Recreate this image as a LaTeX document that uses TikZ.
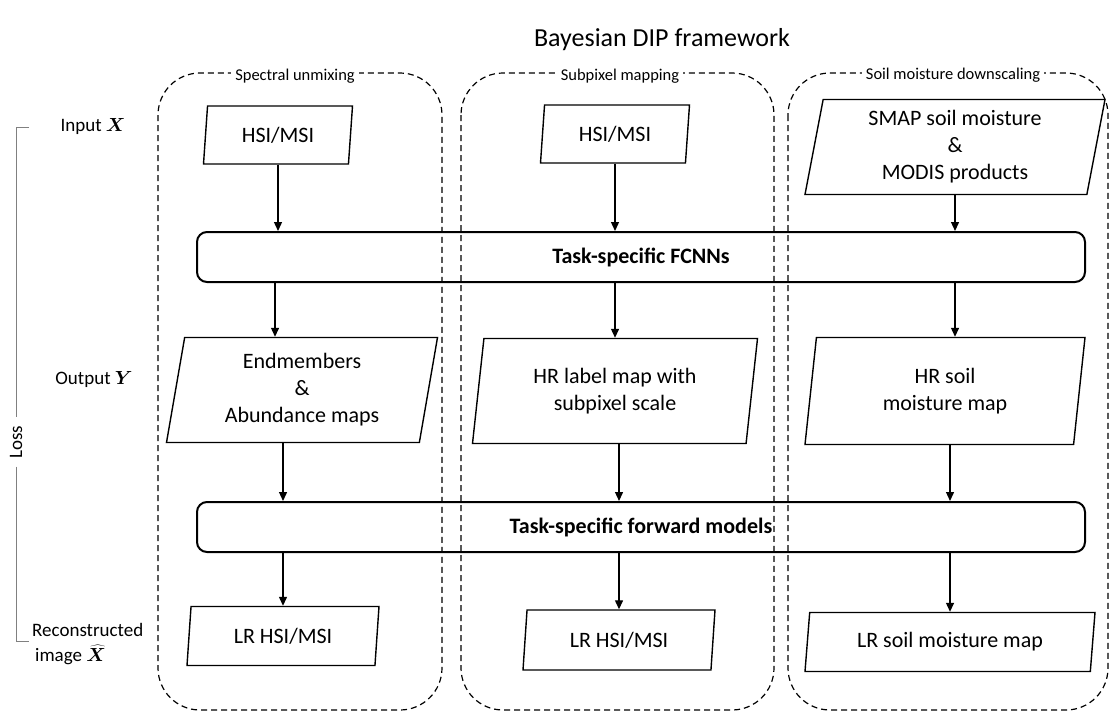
\documentclass[tikz,border=0pt]{standalone}
\usepackage{fix-cm}
\usepackage{bm}
\usepackage{fontspec}
\setmainfont{Carlito}
\usetikzlibrary{shapes.geometric, arrows.meta}
\definecolor{BrkGray}{RGB}{128,128,128}

\begin{document}
\begin{tikzpicture}[x=1pt, y=-1pt,
          lane/.style={draw, dash pattern=on 6pt off 4pt, line width=1.2pt,
                       rounded corners=42pt},
          lanelabel/.style={fill=white, inner sep=4pt,
                            font=\fontsize{16.5}{19}\selectfont},
          io/.style={trapezium, trapezium left angle=76, trapezium right angle=104,
                     trapezium stretches body, draw, line width=1.4pt, align=center,
                     inner sep=0pt, font=\fontsize{22}{27}\selectfont},
          bar/.style={draw, rounded corners=10pt, line width=2pt, minimum width=888pt,
                      minimum height=50pt, font=\fontsize{22}{26}\selectfont\bfseries},
          arr/.style={-{Triangle[length=9pt, width=8pt]}, line width=1.3pt},
          side/.style={font=\fontsize{19}{23}\selectfont},
          brk/.style={draw=BrkGray, line width=1pt}
        ]
        \useasboundingbox (0,0) rectangle (1111,712);

        \node[font=\fontsize{26}{30}\selectfont] (title) at (662,40) {Bayesian DIP framework};

        % task lanes
        \draw[lane] (158,73) rectangle (442,710);
        \draw[lane] (461,73) rectangle (774,710);
        \draw[lane] (788,73) rectangle (1108,710);
        \node[lanelabel] (lab1) at (295,76) {Spectral unmixing};
        \node[lanelabel] (lab2) at (620,76) {Subpixel mapping};
        \node[lanelabel] (lab3) at (953,75) {Soil moisture downscaling};

        % inputs
        \node[io, minimum width=149pt, minimum height=58pt] (in1) at (278,135) {HSI/MSI};
        \node[io, minimum width=149pt, minimum height=58pt] (in2) at (615,134) {HSI/MSI};
        \node[io, minimum width=300pt, minimum height=95pt] (in3) at (955,147)
              {SMAP soil moisture\\\&\\MODIS products};

        \node[bar] (fcnn) at (641,257) {Task-specific FCNNs};

        % outputs
        \node[io, minimum width=271pt, minimum height=105pt] (out1) at (302,390)
              {Endmembers\\\&\\Abundance maps};
        \node[io, minimum width=285pt, minimum height=105pt] (out2) at (615,391)
              {HR label map with\\subpixel scale};
        \node[io, minimum width=280pt, minimum height=107pt] (out3) at (945,391)
              {HR soil\\moisture map};

        \node[bar] (fwd) at (641,527) {Task-specific forward models};

        % reconstructions
        \node[io, minimum width=192pt, minimum height=59pt] (rec1) at (283,636) {LR HSI/MSI};
        \node[io, minimum width=192pt, minimum height=60pt] (rec2) at (619,640) {LR HSI/MSI};
        \node[io, minimum width=290pt, minimum height=59pt] (rec3) at (950,642) {LR soil moisture map};

        \draw[arr] (in1.south) -- (in1.south |- fcnn.north);
        \draw[arr] (in2.south) -- (in2.south |- fcnn.north);
        \draw[arr] (in3.south) -- (in3.south |- fcnn.north);
        \draw[arr] ([xshift=-27pt]out1.north |- fcnn.south) -- ([xshift=-27pt]out1.north);
        \draw[arr] (out2.north |- fcnn.south) -- (out2.north);
        \draw[arr] ([xshift=10pt]out3.north |- fcnn.south) -- ([xshift=10pt]out3.north);
        \draw[arr] ([xshift=-19pt]out1.south) -- ([xshift=-19pt]out1.south |- fwd.north);
        \draw[arr] ([xshift=4pt]out2.south) -- ([xshift=4pt]out2.south |- fwd.north);
        \draw[arr] ([xshift=5pt]out3.south) -- ([xshift=5pt]out3.south |- fwd.north);
        \draw[arr] (rec1.north |- fwd.south) -- (rec1.north);
        \draw[arr] (rec2.north |- fwd.south) -- (rec2.north);
        \draw[arr] (rec3.north |- fwd.south) -- (rec3.north);

        % side labels and loss bracket
        \node[side] (inx) at (93,127) {Input $\bm{X}$};
        \node[side] (outy) at (94,380) {Output $\bm{Y}$};
        \node[side, anchor=west, inner sep=0pt] (recx) at (32,630) {Reconstructed};
        \node[side, anchor=west, inner sep=0pt] (imgx) at (35,655) {image $\widehat{\bm{X}}$};
        \node[side, rotate=90, inner sep=8pt] (loss) at (16,442) {Loss};
        \draw[brk] (29,127) -- (16,127) -- (loss.east);
        \draw[brk] (loss.west) -- (16,641) -- (29,641);
      \end{tikzpicture}
\end{document}
